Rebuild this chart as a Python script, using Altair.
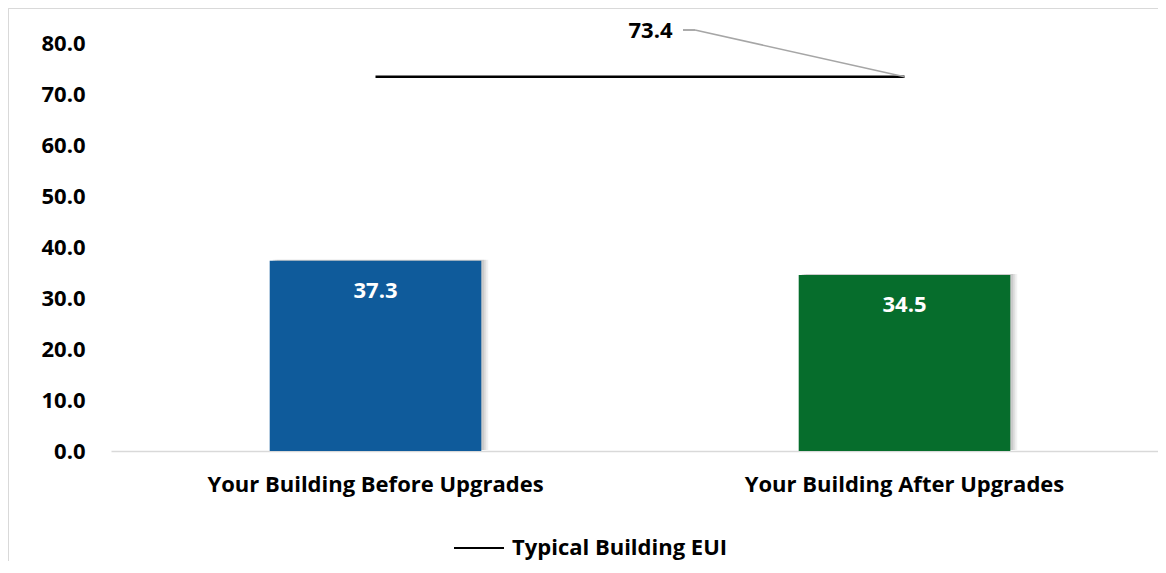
import altair as alt
import pandas as pd

categories = ["Your Building Before Upgrades", "Your Building After Upgrades"]
eui_values = [37.3, 34.5]
bar_colors = ["#0F5B9B", "#066D2C"]
typical_eui = [73.4, 73.4]
y_ticks = [0, 10, 20, 30, 40, 50, 60, 70, 80]
series_name = "Typical Building EUI"

bars_df = pd.DataFrame({"cat": categories, "eui": eui_values, "color": bar_colors})
line_df = pd.DataFrame({"cat": categories, "eui": typical_eui, "series": [series_name] * 2})

FONT = "Open Sans"
FS = 22
W, H = 1047, 408

xscale = alt.Scale(domain=categories, range=[0, 1058], paddingInner=0.6, paddingOuter=0.3)
yscale = alt.Scale(domain=[0, 80], nice=False, zero=True)

x_enc = alt.X(
    "cat:N", scale=xscale, sort=None,
    axis=alt.Axis(title=None, labelAngle=0, labelFont=FONT, labelFontSize=FS,
                  labelFontWeight="bold", labelColor="#000000", ticks=False,
                  domainColor="#d9d9d9", domainWidth=1.5, labelPadding=23,
                  labelLimit=600),
)
y_enc = alt.Y(
    "eui:Q", scale=yscale,
    axis=alt.Axis(title=None, values=y_ticks, format=".1f", grid=False, domain=False,
                  ticks=False, labelPadding=26, labelFont=FONT, labelFontSize=FS,
                  labelFontWeight="bold", labelColor="#000000"),
)

base_bars = alt.Chart(bars_df)

shadows = [
    base_bars.mark_bar(color="#000000", opacity=op, xOffset=off, yOffset=-1).encode(
        x=x_enc, y=y_enc
    )
    for off, op in [(7, 0.05), (5, 0.07), (3, 0.09)]
]
bars = base_bars.mark_bar().encode(
    x=x_enc, y=y_enc, fill=alt.Fill("color:N", scale=None)
)
values = base_bars.mark_text(
    color="#ffffff", font=FONT, fontSize=FS, fontWeight="bold", baseline="middle", dy=30
).encode(x=x_enc, y=y_enc, text=alt.Text("eui:Q", format=".1f"))

line = alt.Chart(line_df).mark_line(strokeWidth=2.5).encode(
    x=x_enc, y=y_enc,
    stroke=alt.Stroke(
        "series:N",
        scale=alt.Scale(domain=[series_name], range=["#000000"]),
        legend=alt.Legend(
            title=None, orient="none", legendX=342, legendY=479, padding=0,
            symbolType="stroke", symbolSize=2500, symbolStrokeWidth=2,
            labelOffset=7, labelFont=FONT, labelFontSize=FS, labelFontWeight="bold",
            labelColor="#000000", labelLimit=500, direction="horizontal",
        ),
    ),
)

last_point = alt.Chart(line_df).transform_filter(
    alt.datum.cat == categories[1]
)
leader = last_point.mark_rule(color="#a6a6a6", strokeWidth=1.5).encode(
    x=x_enc, y=y_enc, x2=alt.value(584), y2=alt.value(-13)
)
leader_tail = alt.Chart(line_df).mark_rule(color="#a6a6a6", strokeWidth=1.5).encode(
    x=alt.value(572), x2=alt.value(584), y=alt.value(-13)
)
line_label = last_point.mark_text(
    font=FONT, fontSize=FS, fontWeight="bold", color="#000000", baseline="middle",
    dx=-254, dy=-46
).encode(x=x_enc, y=y_enc, text=alt.Text("eui:Q", format=".1f"))

border_left = alt.Chart(line_df).mark_rule(color="#d9d9d9", strokeWidth=1).encode(
    x=alt.value(-102.5), y=alt.value(-34.5), y2=alt.value(H + 114)
)
border_top = alt.Chart(line_df).mark_rule(color="#d9d9d9", strokeWidth=1).encode(
    x=alt.value(-102.5), x2=alt.value(W), y=alt.value(-34.5)
)

chart = alt.layer(
    border_left, border_top, *shadows, bars, values, line, leader, leader_tail, line_label
).properties(
    width=W, height=H,
    padding={"left": 103, "top": 35, "right": 0, "bottom": 110},
    autosize=alt.AutoSizeParams(type="none"),
    background="#ffffff",
).configure_view(stroke=None)

chart.save("out.html", embed_options={"renderer": "svg", "actions": False})
